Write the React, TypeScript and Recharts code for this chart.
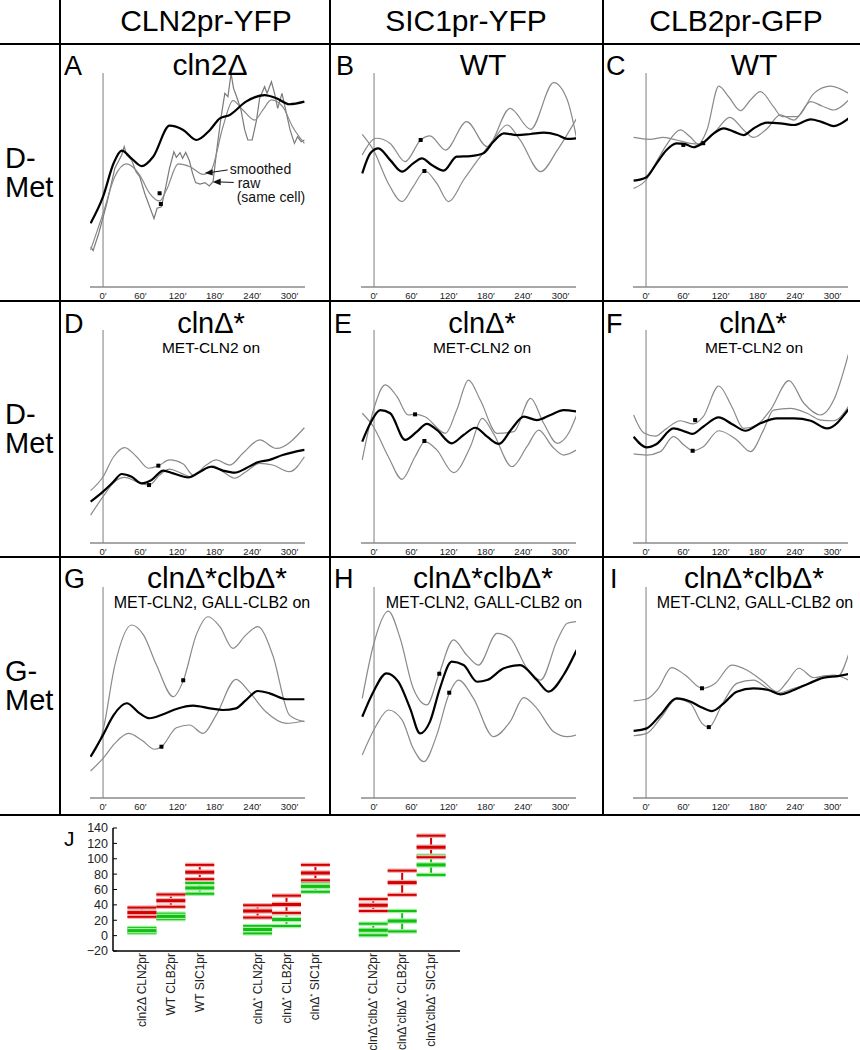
import React from 'react';
import {
  LineChart, Line, XAxis, YAxis, ReferenceLine, ReferenceDot,
  ScatterChart, Scatter, ErrorBar,
} from 'recharts';

const FONT = '"Liberation Sans", Arial, Helvetica, sans-serif';

type P = [number, number];

// ---------- time axis ----------
const TIME_TICKS = [0, 60, 120, 180, 240, 300];

// ---------- Panel A (cln2Δ, CLN2pr-YFP) ----------
const aBlack: P[] = [[-20, 29.8], [0, 42.2], [17, 57.8], [30, 63.7], [46, 60], [62, 56.5], [81, 61], [107, 75.4], [129, 73.4], [150, 68.7], [172, 73.4], [188, 78.8], [204, 80.4], [230, 86.6], [260, 89.7], [279, 88.2], [300, 85.4], [324, 86.6]];
const aSmooth: P[] = [[-20, 17.3], [0, 34.4], [19, 51.6], [38, 57.5], [59, 52.3], [75, 43.8], [91, 40.2], [102, 45.3], [121, 57.5], [140, 56.2], [161, 52.6], [174, 54.7], [193, 74.9], [209, 87.1], [225, 82.7], [244, 78], [257, 82.7], [271, 87.4], [289, 84.3], [305, 74.9], [324, 67.1]];
const aRaw: P[] = [[-20, 18.8], [-16, 17], [-7, 25], [6, 39], [19, 55.5], [30, 61.7], [34, 65.6], [38, 61.7], [46, 59.3], [53, 53.9], [59, 51.6], [67, 43.8], [75, 37.5], [82, 32], [87, 36.8], [94, 37.5], [101, 46.9], [107, 55.5], [114, 63.2], [118, 60.6], [124, 62.8], [128, 60.1], [133, 62.9], [139, 59], [144, 53.1], [149, 48.8], [156, 48.1], [164, 48.8], [171, 47.2], [177, 49.2], [183, 64], [190, 79.6], [196, 90.5], [201, 88.9], [206, 99.8], [210, 92.8], [215, 88.9], [222, 82.7], [228, 73.4], [233, 68.7], [240, 68.7], [247, 78], [252, 88.2], [260, 93.6], [264, 90.5], [271, 95.9], [276, 90.5], [281, 83.5], [288, 90.5], [295, 81.2], [301, 73.4], [308, 67.1], [313, 70.2], [319, 67.9], [324, 68.7]];
const aMarks: P[] = [[91, 43.8], [93, 38.8]];

// ---------- Panel B (WT, SIC1pr-YFP) ----------
const bBlack: P[] = [[-19, 53.1], [-6, 62.5], [7, 64.8], [26, 59.3], [45, 53.9], [63, 57.8], [77, 60.1], [93, 57], [112, 54.4], [133, 60.9], [155, 61.2], [176, 62.5], [192, 67.9], [209, 71.8], [230, 71], [252, 71.5], [273, 72.1], [295, 71], [311, 69.2], [326, 69.5]];
const bUpper: P[] = [[-19, 61.7], [4, 69.5], [26, 67.1], [50, 58.6], [75, 68.7], [90, 70.6], [115, 64], [149, 77.3], [182, 65.6], [219, 83.5], [252, 73.7], [289, 95.5], [311, 87.4], [326, 69.5]];
const bLower: P[] = [[-19, 71.3], [-1, 64], [23, 48.4], [45, 39.9], [63, 46.9], [82, 54.2], [101, 48.4], [120, 39.9], [144, 50], [171, 60.9], [192, 68.7], [214, 75.7], [235, 68.7], [268, 53.9], [295, 64], [326, 78.8]];
const bMarks: P[] = [[75, 68.7], [81, 54.2]];

// ---------- Panel C (WT, CLB2pr-GFP) ----------
const cBlack: P[] = [[-20, 49.7], [0, 51.2], [17, 57.8], [33, 64], [49, 67.1], [63, 66.8], [76, 65.3], [92, 67.4], [109, 71.8], [125, 74.1], [141, 72.6], [157, 71], [173, 74.1], [195, 76.8], [216, 76.5], [238, 75.7], [265, 78.3], [281, 77.3], [302, 75.2], [326, 78.8]];
const cGrayA: P[] = [[-20, 46.1], [0, 50], [17, 58.6], [33, 66.4], [55, 73.4], [71, 70.2], [84, 66.8], [98, 73.4], [117, 93.9], [133, 88.9], [152, 82.4], [168, 87.4], [184, 91.3], [205, 84.3], [219, 79.6], [243, 79.6], [270, 90.5], [297, 93.9], [326, 90.5]];
const cGrayB: P[] = [[-20, 69.9], [6, 69], [28, 69.9], [49, 68.7], [71, 67.1], [87, 66.8], [109, 71.8], [135, 79.3], [157, 73.4], [173, 69.9], [195, 74.1], [216, 80.4], [238, 78], [265, 86.6], [283, 84.6], [302, 82.7], [326, 87.4]];
const cMarks: P[] = [[60, 66.4], [92, 67.2]];

// ---------- Panel D (clnΔ*, CLN2pr-YFP) ----------
const dBlack: P[] = [[-20, 19.4], [0, 24.1], [17, 28.8], [30, 32.4], [46, 31.1], [62, 28], [78, 29.6], [97, 34], [113, 32.7], [137, 30.8], [156, 33.5], [174, 35.8], [193, 34], [212, 33], [230, 35.1], [249, 37.9], [268, 39], [289, 41.3], [324, 43.7]];
const dUpper: P[] = [[-20, 24.6], [0, 31.1], [17, 40.5], [35, 44.8], [54, 40.5], [73, 35.1], [89, 36.2], [107, 39], [129, 37.1], [145, 31.9], [166, 36.6], [182, 39], [204, 36.6], [225, 42.1], [252, 48.4], [279, 44.4], [324, 54.1]];
const dLower: P[] = [[-20, 13.1], [0, 21.8], [19, 28.8], [35, 30.8], [54, 28.8], [74, 27.2], [91, 31.9], [107, 34.7], [126, 32.7], [142, 31.1], [161, 34.3], [177, 36.2], [193, 33.5], [212, 30.4], [230, 33.5], [252, 37.4], [273, 36.6], [300, 33.5], [324, 40.5]];
const dMarks: P[] = [[89, 36.3], [74, 27.2]];

// ---------- Panel E (clnΔ*, SIC1pr-YFP) ----------
const eBlack: P[] = [[-19, 47.6], [-6, 56.2], [10, 62.4], [26, 60.9], [50, 48.4], [69, 52.3], [85, 55.9], [101, 53.1], [125, 46.8], [144, 50.7], [163, 54.1], [182, 49.9], [201, 46.5], [222, 53.8], [241, 59.3], [262, 57.7], [284, 60.1], [305, 62.4], [326, 61.7]];
const eUpper: P[] = [[-19, 39], [-1, 62.4], [18, 74.2], [37, 68.7], [55, 60.1], [66, 60.4], [82, 59.3], [115, 51.5], [133, 62.4], [152, 76.5], [171, 67.1], [198, 51.5], [225, 52.3], [252, 67.9], [273, 56.2], [295, 46.8], [313, 51.5], [326, 60.1]];
const eLower: P[] = [[-19, 60.9], [-1, 54.6], [23, 40.5], [45, 29.9], [66, 40.5], [82, 47.6], [101, 43.7], [128, 33], [155, 45.2], [174, 58.5], [192, 51.5], [222, 35.8], [246, 45.2], [265, 53], [287, 45.2], [305, 41.3], [326, 43.7]];
const eMarks: P[] = [[66, 60.4], [81, 47.9]];

// ---------- Panel F (clnΔ*, CLB2pr-GFP) ----------
const fBlack: P[] = [[-20, 49.9], [1, 44.9], [17, 46.5], [44, 53.8], [63, 52.3], [74, 51.2], [92, 54.6], [117, 59], [138, 55.9], [160, 52.7], [184, 56.2], [211, 58.5], [238, 58.5], [265, 57.4], [291, 53.8], [326, 62.8]];
const fUpper: P[] = [[-20, 60.1], [-4, 51.8], [15, 50.2], [33, 53.8], [55, 57.4], [76, 55.9], [92, 59.3], [117, 73.7], [138, 64], [157, 53.8], [178, 55.4], [200, 62.4], [230, 76.2], [254, 65.6], [281, 60.1], [302, 67.1], [326, 89]];
const fLower: P[] = [[-20, 41.8], [1, 41.3], [23, 42.9], [44, 49.9], [63, 45.5], [75, 43.3], [92, 45.2], [117, 52.7], [146, 48.4], [168, 42.9], [189, 53], [205, 62.4], [232, 63.2], [259, 60.9], [281, 57.7], [302, 57.4], [326, 64.3]];
const fMarks: P[] = [[79, 57.7], [75, 43.3]];

// ---------- Panel G (clnΔ*clbΔ*, CLN2pr-YFP) ----------
const gBlack: P[] = [[-20, 19.6], [0, 29.9], [17, 39.3], [38, 44.9], [59, 40.1], [75, 37.8], [97, 39.7], [118, 42.2], [145, 43.8], [172, 42.5], [193, 41.7], [214, 42.5], [230, 46.4], [249, 50.7], [268, 49.6], [295, 46.8], [324, 46.8]];
const gUpper: P[] = [[-20, 19.6], [0, 32.2], [19, 63], [46, 82], [65, 77.3], [86, 63], [113, 48], [129, 55.5], [150, 77.3], [169, 85.9], [188, 81.2], [209, 70.9], [230, 77.3], [249, 81.2], [273, 67.8], [300, 39.3], [324, 36.2]];
const gLower: P[] = [[-20, 12.8], [0, 18.8], [19, 25.9], [41, 30.6], [62, 27.5], [83, 23.1], [94, 24.3], [118, 33.3], [139, 34.6], [161, 30.6], [182, 39.3], [214, 56.2], [235, 50.4], [262, 40.9], [295, 35.4], [324, 36.5]];
const gMarks: P[] = [[129, 55.8], [94, 24.3]];

// ---------- Panel H (clnΔ*clbΔ*, SIC1pr-YFP) ----------
const hBlack: P[] = [[-19, 38.5], [-1, 50.4], [20, 59.1], [39, 55.1], [58, 42.5], [74, 30.6], [90, 36.2], [106, 52], [125, 64.6], [144, 63], [166, 55.1], [182, 55.9], [209, 61.5], [235, 63], [262, 55.9], [281, 50.4], [305, 58.3], [326, 70.1]];
const hUpper: P[] = [[-19, 47.2], [-1, 72.5], [23, 88.6], [42, 75.7], [63, 52], [85, 44.1], [104, 58.3], [128, 74.9], [149, 67.8], [168, 63], [198, 78], [219, 75.7], [246, 61.5], [268, 55.9], [295, 74.9], [311, 82.8], [326, 83.6]];
const hLower: P[] = [[-19, 20.4], [4, 34.6], [23, 41.7], [45, 37], [63, 23.5], [80, 17.2], [101, 29.9], [120, 48.8], [136, 55.9], [160, 47.2], [192, 29.1], [219, 36.2], [241, 47.6], [262, 42.5], [289, 31.4], [311, 29.1], [326, 29.9]];
const hMarks: P[] = [[105, 58.9], [121, 49.9]];

// ---------- Panel I (clnΔ*clbΔ*, CLB2pr-GFP) ----------
const iBlack: P[] = [[-20, 31.8], [1, 33], [23, 39.3], [49, 47.2], [71, 45.7], [87, 43.3], [106, 41.2], [125, 44.9], [146, 50.4], [173, 52], [197, 51.2], [216, 49.1], [238, 51.2], [262, 54.3], [286, 57], [308, 57.8], [326, 58.8]];
const iUpper: P[] = [[-20, 46], [1, 46.9], [20, 52], [41, 61.8], [63, 58.3], [90, 52], [111, 54.3], [138, 63], [162, 60.7], [189, 55.1], [211, 50.4], [227, 55.1], [246, 61.5], [270, 57], [291, 58], [308, 57.5], [326, 68.1]];
const iLower: P[] = [[-20, 29.5], [1, 30.6], [25, 38.5], [49, 46.9], [71, 44.9], [90, 35.4], [101, 33.6], [122, 44.1], [146, 54.3], [173, 55.9], [195, 52], [211, 49.6], [238, 52], [262, 54.3], [283, 57.5], [302, 58.3], [326, 55.9]];
const iMarks: P[] = [[90, 52], [101, 33.6]];

// ---------- Panel J ----------
const jCategories = ['cln2Δ CLN2pr', 'WT CLB2pr', 'WT SIC1pr', 'clnΔ* CLN2pr', 'clnΔ* CLB2pr', 'clnΔ* SIC1pr', 'clnΔ*clbΔ* CLN2pr', 'clnΔ*clbΔ* CLB2pr', 'clnΔ*clbΔ* SIC1pr'];
const jX = [1, 2, 3, 5, 6, 7, 9, 10, 11];
const redMean = [30, 45.5, 82.5, 32, 40.5, 81.5, 39.5, 69, 115];
const redHi = [36.5, 53.5, 92, 39.5, 52, 92, 47.5, 84.5, 130];
const redLo = [24.5, 37.5, 73.5, 23.5, 29.5, 72, 32, 53, 102];
const greenMean = [6.5, 25, 62, 8, 21, 64, 7, 19, 92];
const greenHi = [10, 28.5, 68.5, 12.5, 29, 70, 15.5, 32, 104];
const greenLo = [3.5, 21.5, 54.5, 3, 12.5, 57, 0.5, 5.5, 79];
const jTicks = [-20, 0, 20, 40, 60, 80, 100, 120, 140];

// ---------- helpers ----------
const toData = (pts: P[]) => pts.map(([t, v]) => ({ t, v }));

type Series = { pts: P[]; kind: 'black' | 'gray' | 'raw' };
type PanelDef = { left: number; top: number; h: number; series: Series[]; marks: P[]; annotate?: boolean };

const COLS = [90, 361, 633];
const ROWS = [{ top: 73, h: 214 }, { top: 330, h: 213 }, { top: 587, h: 211 }];

const panels: PanelDef[] = [
  { left: COLS[0], ...ROWS[0], series: [{ pts: aRaw, kind: 'raw' }, { pts: aSmooth, kind: 'gray' }, { pts: aBlack, kind: 'black' }], marks: aMarks, annotate: true },
  { left: COLS[1], ...ROWS[0], series: [{ pts: bUpper, kind: 'gray' }, { pts: bLower, kind: 'gray' }, { pts: bBlack, kind: 'black' }], marks: bMarks },
  { left: COLS[2], ...ROWS[0], series: [{ pts: cGrayA, kind: 'gray' }, { pts: cGrayB, kind: 'gray' }, { pts: cBlack, kind: 'black' }], marks: cMarks },
  { left: COLS[0], ...ROWS[1], series: [{ pts: dUpper, kind: 'gray' }, { pts: dLower, kind: 'gray' }, { pts: dBlack, kind: 'black' }], marks: dMarks },
  { left: COLS[1], ...ROWS[1], series: [{ pts: eUpper, kind: 'gray' }, { pts: eLower, kind: 'gray' }, { pts: eBlack, kind: 'black' }], marks: eMarks },
  { left: COLS[2], ...ROWS[1], series: [{ pts: fUpper, kind: 'gray' }, { pts: fLower, kind: 'gray' }, { pts: fBlack, kind: 'black' }], marks: fMarks },
  { left: COLS[0], ...ROWS[2], series: [{ pts: gUpper, kind: 'gray' }, { pts: gLower, kind: 'gray' }, { pts: gBlack, kind: 'black' }], marks: gMarks },
  { left: COLS[1], ...ROWS[2], series: [{ pts: hUpper, kind: 'gray' }, { pts: hLower, kind: 'gray' }, { pts: hBlack, kind: 'black' }], marks: hMarks },
  { left: COLS[2], ...ROWS[2], series: [{ pts: iUpper, kind: 'gray' }, { pts: iLower, kind: 'gray' }, { pts: iBlack, kind: 'black' }], marks: iMarks },
];

const Square = (p: any) => (
  <rect key={`sq-${p.index}`} x={p.cx - 2} y={p.cy - 2} width={4} height={4} fill="#000" />
);

const Annotation = (p: any) => {
  const { cx, cy } = p;
  const fs = 14;
  return (
    <g fontFamily={FONT} fill="#111">
      <line x1={cx + 23} y1={cy - 3} x2={cx + 6} y2={cy - 0.5} stroke="#111" strokeWidth={1} />
      <polygon points={`${cx},${cy} ${cx + 8},${cy - 3.8} ${cx + 8},${cy + 2.6}`} fill="#111" />
      <text x={cx + 25} y={cy + 1} fontSize={fs}>smoothed</text>
      <line x1={cx + 29} y1={cy + 9.5} x2={cx + 14} y2={cy + 9} stroke="#111" strokeWidth={1} />
      <polygon points={`${cx + 8},${cy + 9} ${cx + 16},${cy + 5.5} ${cx + 16},${cy + 12.3}`} fill="#111" />
      <text x={cx + 33} y={cy + 15.5} fontSize={fs}>raw</text>
      <text x={cx + 32} y={cy + 29.5} fontSize={fs}>(same cell)</text>
    </g>
  );
};

function Panel({ def }: { def: PanelDef }) {
  const W = 219;
  return (
    <div style={{ position: 'absolute', left: def.left - 2, top: def.top }}>
      <LineChart width={W} height={def.h + 15} margin={{ top: 0, right: 2, bottom: 0, left: 2 }}>
        <XAxis
          type="number" dataKey="t" domain={[-21, 325]} ticks={TIME_TICKS} interval={0}
          allowDataOverflow tickFormatter={(v: number) => `${v}′`}
          axisLine={{ stroke: '#8a8a8a', strokeWidth: 1.5 }} tickLine={false} tickSize={5} tickMargin={0}
          tick={{ fontSize: 9.5, fill: '#222', fontFamily: FONT }} height={15}
        />
        <YAxis type="number" domain={[0, 100]} width={0} tick={false} tickLine={false} allowDataOverflow
          axisLine={{ stroke: '#000', strokeWidth: 2 }} />
        <ReferenceLine x={0} stroke="#a8a8a8" strokeWidth={1.5} />
        {def.series.map((s, i) => (
          <Line
            key={i}
            data={toData(s.pts)}
            dataKey="v"
            type={s.kind === 'raw' ? 'linear' : 'monotone'}
            stroke={s.kind === 'black' ? '#000' : s.kind === 'raw' ? '#7a7a7a' : '#8a8a8a'}
            strokeWidth={s.kind === 'black' ? 2.2 : 1.2}
            dot={false}
            activeDot={false}
            isAnimationActive={false}
          />
        ))}
        <Line data={toData(def.marks)} dataKey="v" stroke="none" dot={Square} activeDot={false} isAnimationActive={false} />
        {def.annotate && <ReferenceDot x={163.6} y={53.3} r={1} shape={Annotation} />}
      </LineChart>
    </div>
  );
}

// ---- J ----
const JTick = (p: any) => {
  const idx = jX.indexOf(p.payload.value);
  const label = jCategories[idx] ?? '';
  const x = p.x + 4;
  const y = p.y;
  const parts = label.split('*');
  const children: any[] = [];
  parts.forEach((part, i) => {
    children.push(<tspan key={`p${i}`} dy={i > 0 ? 4 : 0}>{part}</tspan>);
    if (i < parts.length - 1) {
      children.push(<tspan key={`s${i}`} dy={-4} fontSize={8}>*</tspan>);
    }
  });
  return (
    <text x={x} y={y} transform={`rotate(-90, ${x}, ${y})`} textAnchor="end" fontSize={12}
      fontFamily={FONT} fill="#222">
      {children}
    </text>
  );
};

const makeHLine = (color: string, halo: string, w: number) => (p: any) => (
  <g key={`h-${color}-${w}-${p.index}`}>
    <line x1={p.cx - 14.5} x2={p.cx + 14.5} y1={p.cy} y2={p.cy} stroke={halo} strokeWidth={w + 2.5} />
    <line x1={p.cx - 14.5} x2={p.cx + 14.5} y1={p.cy} y2={p.cy} stroke={color} strokeWidth={w} />
  </g>
);

const RED = '#d20000';
const RED_HALO = '#f3b0b0';
const GREEN = '#10c010';
const GREEN_HALO = '#a8eea8';

const mk = (vals: number[]) => jX.map((x, i) => ({ x, y: vals[i] }));
const mkErr = (mean: number[], lo: number[], hi: number[]) =>
  jX.map((x, i) => ({ x, y: mean[i], err: [mean[i] - lo[i], hi[i] - mean[i]] }));

function PanelJ() {
  return (
    <div style={{ position: 'absolute', left: 60, top: 820 }}>
      <ScatterChart width={410} height={230} margin={{ top: 8, right: 10, bottom: 0, left: 0 }}>
        <XAxis type="number" dataKey="x" domain={[0, 12]} ticks={jX} interval={0}
          tick={(p: any) => <JTick {...p} />} tickLine={false} tickSize={0} tickMargin={2} height={99}
          axisLine={{ stroke: '#000', strokeWidth: 1.5 }} />
        <YAxis type="number" dataKey="y" domain={[-20, 140]} ticks={jTicks} interval={0} width={53}
          tickLine={{ stroke: '#000', strokeWidth: 1 }} tickSize={-4} tickMargin={9}
          tick={{ fontSize: 12.5, fill: '#222', fontFamily: FONT }}
          tickFormatter={(v: number) => (v < 0 ? `−${-v}` : `${v}`)}
          axisLine={{ stroke: '#000', strokeWidth: 1.5 }} />
        <Scatter data={mk(greenHi)} shape={makeHLine(GREEN, GREEN_HALO, 2)} isAnimationActive={false} />
        <Scatter data={mk(greenLo)} shape={makeHLine(GREEN, GREEN_HALO, 2)} isAnimationActive={false} />
        <Scatter data={mkErr(greenMean, greenLo, greenHi)} shape={makeHLine(GREEN, GREEN_HALO, 3)} isAnimationActive={false}>
          <ErrorBar dataKey="err" direction="y" width={0} stroke={GREEN} strokeWidth={2} />
        </Scatter>
        <Scatter data={mk(redHi)} shape={makeHLine(RED, RED_HALO, 2)} isAnimationActive={false} />
        <Scatter data={mk(redLo)} shape={makeHLine(RED, RED_HALO, 2)} isAnimationActive={false} />
        <Scatter data={mkErr(redMean, redLo, redHi)} shape={makeHLine(RED, RED_HALO, 3)} isAnimationActive={false}>
          <ErrorBar dataKey="err" direction="y" width={0} stroke={RED} strokeWidth={2} />
        </Scatter>
      </ScatterChart>
    </div>
  );
}

// ---------- figure text ----------
const colHeaders: [string, number][] = [['CLN2pr-YFP', 206], ['SIC1pr-YFP', 466], ['CLB2pr-GFP', 736]];
const rowLabels: [string, string, number][] = [['D-', 'Met', 168], ['D-', 'Met', 424], ['G-', 'Met', 681]];
const letters: [string, number, number][] = [['A', 64, 75], ['B', 336, 75], ['C', 606, 75], ['D', 64, 333], ['E', 334, 333], ['F', 606, 333], ['G', 64, 588], ['H', 334, 588], ['I', 610, 588]];
const titles: [string, number, number][] = [['cln2Δ', 210, 75], ['WT', 483, 75], ['WT', 754, 75], ['clnΔ*', 211, 333], ['clnΔ*', 482, 333], ['clnΔ*', 753, 333], ['clnΔ*clbΔ*', 217, 588], ['clnΔ*clbΔ*', 483, 588], ['clnΔ*clbΔ*', 754, 588]];
const subtitles: [string, number, number][] = [['MET-CLN2 on', 211, 353], ['MET-CLN2 on', 482, 353], ['MET-CLN2 on', 754, 353], ['MET-CLN2, GALL-CLB2 on', 212, 608], ['MET-CLN2, GALL-CLB2 on', 484, 608], ['MET-CLN2, GALL-CLB2 on', 755, 608]];

function Overlay() {
  return (
    <svg width={860} height={1050} style={{ position: 'absolute', left: 0, top: 0, pointerEvents: 'none' }}
      fontFamily={FONT} fill="#000">
      <line x1={60} y1={0} x2={60} y2={815} stroke="#000" strokeWidth={2} />
      <line x1={330} y1={0} x2={330} y2={815} stroke="#000" strokeWidth={2} />
      <line x1={603} y1={0} x2={603} y2={815} stroke="#000" strokeWidth={2} />
      {[44, 301, 557, 815].map((y) => (
        <line key={y} x1={0} y1={y} x2={860} y2={y} stroke="#000" strokeWidth={2} />
      ))}
      {colHeaders.map(([t, x]) => (
        <text key={t} x={x} y={31} fontSize={30} textAnchor="middle">{t}</text>
      ))}
      {rowLabels.map(([a, b, y], i) => (
        <g key={i}>
          <text x={5} y={y} fontSize={29}>{a}</text>
          <text x={5} y={y + 29} fontSize={29}>{b}</text>
        </g>
      ))}
      {letters.map(([t, x, y]) => (
        <text key={t} x={x} y={y} fontSize={27}>{t}</text>
      ))}
      {titles.map(([t, x, y], i) => (
        <text key={i} x={x} y={y} fontSize={i >= 3 && i < 6 ? 29 : 30} textAnchor="middle">{t}</text>
      ))}
      {subtitles.map(([t, x, y], i) => (
        <text key={i} x={x} y={y} fontSize={i < 3 ? 15.5 : 16} textAnchor="middle">{t}</text>
      ))}
      <text x={64} y={846} fontSize={21}>J</text>
    </svg>
  );
}

export default function App() {
  return (
    <div style={{ position: 'absolute', left: 0, top: 0, width: 860, height: 1050, background: '#fff', overflow: 'hidden', fontFamily: FONT }}>
      {panels.map((d, i) => <Panel key={i} def={d} />)}
      <PanelJ />
      <Overlay />
    </div>
  );
}
